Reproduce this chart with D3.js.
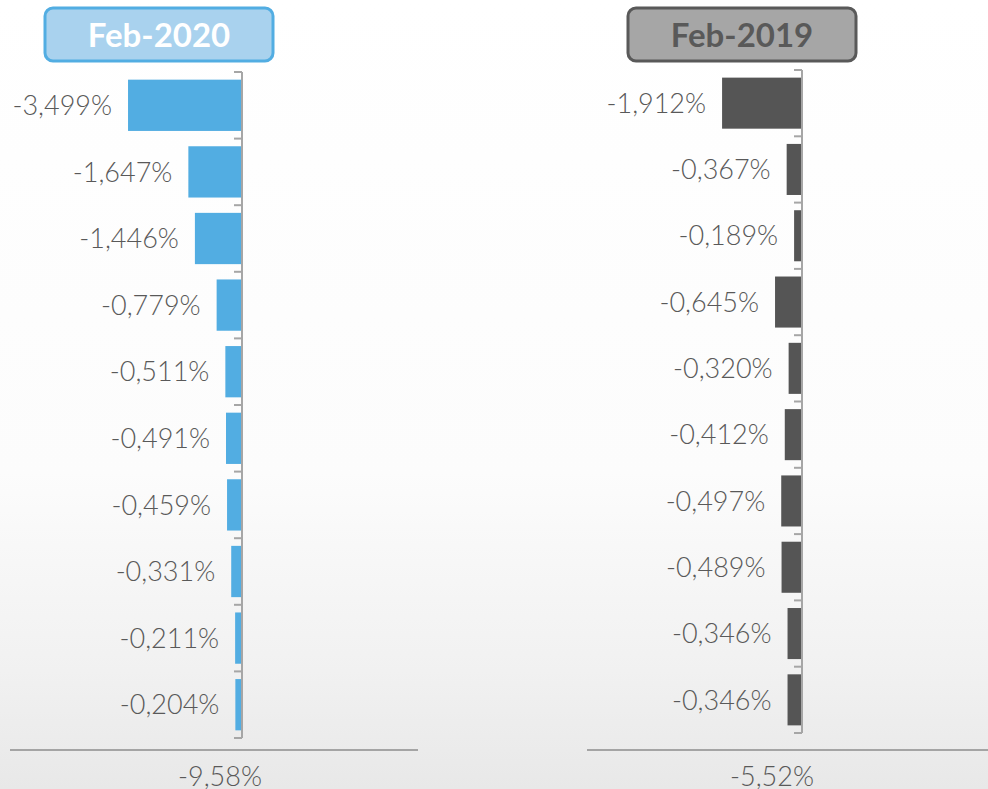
<!DOCTYPE html>
<html>
<head>
<meta charset="utf-8">
<script src="https://cdn.jsdelivr.net/npm/d3@7"></script>
<style>
  body { margin: 0; }
  svg { display: block; }
</style>
</head>
<body>
<svg id="chart"></svg>
<script>
// rank of each contribution (not shown in the picture)
const ranks = ["1", "2", "3", "4", "5", "6", "7", "8", "9", "10"];
const values2020 = [-3.499, -1.647, -1.446, -0.779, -0.511, -0.491, -0.459, -0.331, -0.211, -0.204];
const values2019 = [-1.912, -0.367, -0.189, -0.645, -0.320, -0.412, -0.497, -0.489, -0.346, -0.346];
const titles = ["Feb-2020", "Feb-2019"];
const totals = ["-9,58%", "-5,52%"];

const W = 988, H = 789;
const svg = d3.select("#chart").attr("width", W).attr("height", H);

// background
const defs = svg.append("defs");
const grad = defs.append("linearGradient").attr("id", "bg")
    .attr("x1", 0).attr("y1", 0).attr("x2", 0).attr("y2", 1);
grad.append("stop").attr("offset", "0%").attr("stop-color", "#ffffff");
grad.append("stop").attr("offset", "60%").attr("stop-color", "#fcfcfc");
grad.append("stop").attr("offset", "85%").attr("stop-color", "#f1f1f1");
grad.append("stop").attr("offset", "100%").attr("stop-color", "#e8e8e8");
svg.append("rect").attr("width", W).attr("height", H).attr("fill", "url(#bg)");

const fmt = v => d3.format(".3f")(v).replace("−", "-").replace(".", ",") + "%";

function panel(cfg, values) {
    const g = svg.append("g");

    const y = d3.scaleBand().domain(ranks)
        .range([cfg.top, cfg.bottom]).paddingInner(0.23).paddingOuter(0.115);
    const x = d3.scaleLinear().domain(cfg.domain).range([cfg.xMin, cfg.axisX]);

    const data = ranks.map((r, i) => ({ rank: r, value: values[i] }));

    g.selectAll("rect.bar")
        .data(data)
        .join("rect")
        .attr("class", "bar")
        .attr("x", d => x(d.value))
        .attr("y", d => y(d.rank))
        .attr("width", d => x(0) - x(d.value))
        .attr("height", y.bandwidth())
        .attr("fill", cfg.color);

    // vertical axis with tick marks between the bars
    const step = y.step();
    const tickPos = d3.range(ranks.length + 1).map(i => cfg.top + i * step);
    g.append("line")
        .attr("x1", x(0)).attr("x2", x(0))
        .attr("y1", cfg.top).attr("y2", cfg.bottom)
        .attr("stroke", "#a6a6a6").attr("stroke-width", 2);
    g.selectAll("line.tick")
        .data(tickPos)
        .join("line")
        .attr("class", "tick")
        .attr("x1", x(0) - 8).attr("x2", x(0))
        .attr("y1", d => d).attr("y2", d => d)
        .attr("stroke", "#a6a6a6").attr("stroke-width", 2);

    g.selectAll("text.lbl")
        .data(data)
        .join("text")
        .attr("class", "lbl")
        .attr("x", d => x(d.value) - 16)
        .attr("y", d => y(d.rank) + y.bandwidth() / 2)
        .attr("dy", "0.36em")
        .attr("text-anchor", "end")
        .attr("font-family", "Lato, sans-serif")
        .attr("font-weight", 300)
        .attr("font-size", 27)
        .attr("fill", "#595959")
        .text(d => fmt(d.value));

    // total line + total label
    g.append("line")
        .attr("x1", cfg.lineX[0]).attr("x2", cfg.lineX[1])
        .attr("y1", 750).attr("y2", 750)
        .attr("stroke", "#8c8c8c").attr("stroke-width", 1.5);
    g.append("text")
        .attr("x", cfg.totalX).attr("y", 786)
        .attr("text-anchor", "middle")
        .attr("font-family", "Lato, sans-serif")
        .attr("font-weight", 300)
        .attr("font-size", 27)
        .attr("fill", "#595959")
        .text(cfg.total);

    // title box
    g.append("rect")
        .attr("x", cfg.box[0]).attr("y", 8)
        .attr("width", cfg.box[1]).attr("height", 53)
        .attr("rx", 8)
        .attr("fill", cfg.boxFill)
        .attr("stroke", cfg.boxStroke).attr("stroke-width", 3);
    g.append("text")
        .attr("x", cfg.box[0] + cfg.box[1] / 2).attr("y", 35)
        .attr("dy", "0.36em")
        .attr("text-anchor", "middle")
        .attr("font-family", "Lato, sans-serif")
        .attr("font-weight", 700)
        .attr("font-size", 33)
        .attr("fill", cfg.titleColor)
        .text(cfg.title);
}

panel({
    top: 72, bottom: 738, axisX: 242, xMin: 128, domain: [-3.5, 0],
    color: "#52ade2", lineX: [10, 418], totalX: 220, total: totals[0],
    box: [45, 228], boxFill: "#a9d2ee", boxStroke: "#52ade2", titleColor: "#ffffff",
    title: titles[0]
}, values2020);

panel({
    top: 70, bottom: 733, axisX: 802, xMin: 718.4, domain: [-2, 0],
    color: "#555555", lineX: [587, 988], totalX: 772, total: totals[1],
    box: [628, 228], boxFill: "#a6a6a6", boxStroke: "#595959", titleColor: "#595959",
    title: titles[1]
}, values2019);
</script>
</body>
</html>
